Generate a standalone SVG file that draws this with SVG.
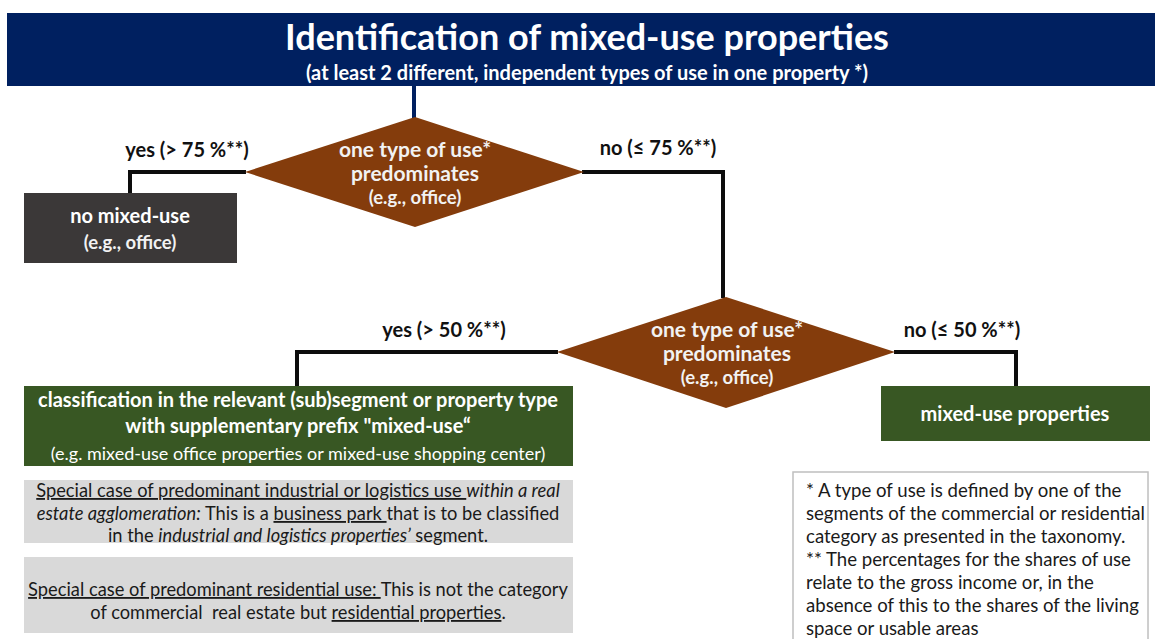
<svg xmlns="http://www.w3.org/2000/svg" width="1155" height="639" viewBox="0 0 1155 639">
  <defs>
    <style>
      text { font-family: Lato, "Open Sans", "Liberation Sans", sans-serif; }
      .head { fill: #FFFFFF; font-weight: bold; text-anchor: middle; }
      .lbl { fill: #111111; font-weight: bold; font-size: 20px; text-anchor: middle; }
      .wt { fill: #FFFFFF; font-weight: bold; font-size: 20px; text-anchor: middle; }
      .ws { fill: #FFFFFF; font-size: 18px; text-anchor: middle; }
      .dt { fill: #F2F2F2; font-weight: bold; font-size: 21px; text-anchor: middle; }
      .ds { fill: #F2F2F2; font-weight: bold; font-size: 18.5px; text-anchor: middle; }
      .gt { fill: #1A1A1A; font-size: 18.3px; text-anchor: middle; }
      .ft { fill: #1A1A1A; font-size: 18.6px; }
      .u { text-decoration: underline; }
      .i { font-style: italic; }
      .conn { fill: none; stroke: #0D0D0D; stroke-width: 4; }
      .diamond { fill: #843C0C; }
      .green { fill: #385723; }
    </style>
  </defs>

  <rect width="1155" height="639" fill="#FFFFFF"/>

  <!-- title banner -->
  <g id="header">
    <rect x="7" y="13" width="1148" height="73" fill="#002060"/>
    <text class="head" x="587" y="50" font-size="36">Identification of mixed-use properties</text>
    <text class="head" x="587" y="80" font-size="20">(at least 2 different, independent types of use in one property *)</text>
  </g>

  <!-- connectors -->
  <g id="connectors">
    <line x1="414" y1="86" x2="414" y2="118" stroke="#002060" stroke-width="4"/>
    <polyline class="conn" points="246,172 130,172 130,193"/>
    <polyline class="conn" points="582,172 723,172 723,298"/>
    <polyline class="conn" points="558,352 297,352 297,386"/>
    <polyline class="conn" points="894,352 1016,352 1016,386"/>
    <text class="lbl" x="187" y="157">yes (&gt; 75 %**)</text>
    <text class="lbl" x="658" y="155">no (≤ 75 %**)</text>
    <text class="lbl" x="444" y="337">yes (&gt; 50 %**)</text>
    <text class="lbl" x="962" y="337">no (≤ 50 %**)</text>
  </g>

  <!-- first decision -->
  <g id="decision-75">
    <polygon class="diamond" points="415,117 584,172 415,227 245,172"/>
    <text class="dt" x="415" y="157">one type of use*</text>
    <text class="dt" x="415" y="181">predominates</text>
    <text class="ds" x="415" y="204">(e.g., office)</text>
  </g>

  <g id="no-mixed-use">
    <rect x="24" y="193" width="213" height="70" fill="#3B3838"/>
    <text class="wt" x="130" y="223">no mixed-use</text>
    <text class="ds" x="130" y="249" fill="#FFFFFF">(e.g., office)</text>
  </g>

  <!-- second decision -->
  <g id="decision-50">
    <polygon class="diamond" points="726,297 895,352 726,408 557,352"/>
    <text class="dt" x="727" y="337">one type of use*</text>
    <text class="dt" x="727" y="361">predominates</text>
    <text class="ds" x="727" y="384">(e.g., office)</text>
  </g>

  <g id="classification">
    <rect class="green" x="24" y="386" width="549" height="80"/>
    <text class="wt" x="298" y="407" font-size="21.5">classification in the relevant (sub)segment or property type</text>
    <text class="wt" x="298" y="433" font-size="21.5">with supplementary prefix "mixed-use“</text>
    <text class="ws" x="298" y="460">(e.g. mixed-use office properties or mixed-use shopping center)</text>
  </g>

  <g id="mixed-use-properties">
    <rect class="green" x="881" y="386" width="269" height="55"/>
    <text class="wt" x="1015" y="421">mixed-use properties</text>
  </g>

  <!-- special cases -->
  <g id="special-industrial">
    <rect x="24" y="480" width="549" height="63" fill="#D9D9D9"/>
    <text class="gt" x="298" y="497"><tspan class="u">Special case of predominant industrial or logistics use </tspan><tspan class="i">within a real</tspan></text>
    <text class="gt" x="298" y="520"><tspan class="i">estate agglomeration:</tspan> This is a <tspan class="u">business park </tspan>that is to be classified</text>
    <text class="gt" x="298" y="542">in the <tspan class="i">industrial and logistics properties’</tspan> segment.</text>
  </g>

  <g id="special-residential">
    <rect x="24" y="557" width="549" height="76" fill="#D9D9D9"/>
    <text class="gt" x="298" y="596"><tspan class="u">Special case of predominant residential use: </tspan>This is not the category</text>
    <text class="gt" x="298" y="619" xml:space="preserve">of commercial  real estate but <tspan class="u">residential properties</tspan>.</text>
  </g>

  <!-- footnotes -->
  <g id="footnotes">
    <rect x="793" y="472" width="355" height="170" fill="#FFFFFF" stroke="#BFBFBF" stroke-width="1.5"/>
    <text class="ft" x="806" y="497">* A type of use is defined by one of the</text>
    <text class="ft" x="806" y="520">segments of the commercial or residential</text>
    <text class="ft" x="806" y="543">category as presented in the taxonomy.</text>
    <text class="ft" x="806" y="566">** The percentages for the shares of use</text>
    <text class="ft" x="806" y="589">relate to the gross income or, in the</text>
    <text class="ft" x="806" y="612">absence of this to the shares of the living</text>
    <text class="ft" x="806" y="635">space or usable areas</text>
  </g>
</svg>
